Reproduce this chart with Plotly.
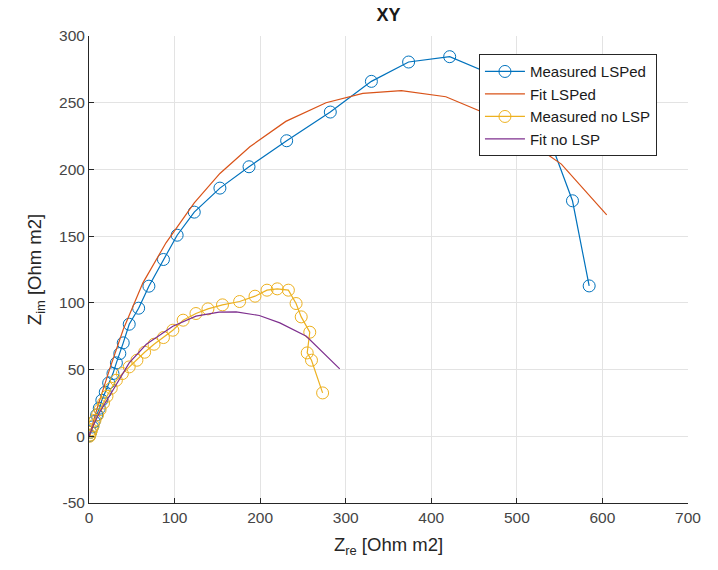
import plotly.graph_objects as go

# Measured impedance, LSPed sample
meas_lsp_re = [0.5, 2, 4, 6, 9, 12, 15, 19, 23, 28, 32, 36, 40, 47, 58, 70, 87, 103, 123,
               153, 187, 231, 282, 330, 373.5, 421.5, 475, 527, 565, 584.5]
meas_lsp_im = [0.5, 3, 7, 11, 16, 21, 27, 33, 40, 47, 55, 62, 70, 84, 96, 112.5, 132.5, 150.7, 168,
               186, 202, 221.5, 243, 266, 280.5, 284.5, 270, 242, 176.5, 112.7]

# Fitted model, LSPed sample
fit_lsp_re = [0, 10, 25, 40, 63, 90, 123, 153, 188, 230, 277, 320, 365, 417, 456, 495, 534.5, 552, 605]
fit_lsp_im = [0, 22, 52, 80, 115, 145, 175, 197, 217, 236, 250, 257, 259, 254.5, 244, 229, 211.7, 204, 166]

# Measured impedance, sample without LSP
meas_no_re = [0.5, 1, 2, 3, 5, 7, 10, 13, 17, 21, 26, 32, 39, 47, 56, 65, 76, 87, 98, 110,
              125, 139, 156, 176, 194, 208, 220, 233, 242, 248, 258, 255, 260, 273]
meas_no_im = [0, 1, 3, 5, 8, 12, 16, 20, 25, 30, 36, 42, 47, 52, 57, 63, 69, 74, 79.5, 87,
              92, 95.5, 98.5, 101, 105, 109.5, 110.5, 109.5, 99.5, 89.5, 78, 62.5, 57, 32.5]

# Fitted model, sample without LSP
fit_no_re = [0, 5, 12, 28, 47, 67, 98, 125, 152, 172, 199, 223, 254, 293]
fit_no_im = [0, 8, 17.5, 35, 55, 69, 82.5, 90, 93, 93.3, 90.5, 85, 75, 50.5]

x_ticks = [0, 100, 200, 300, 400, 500, 600, 700]
y_ticks = [-50, 0, 50, 100, 150, 200, 250, 300]
y_tick_labels = ["-50", "0", "50", "100", "150", "200", "250", "300"]

BLUE = "#0072BD"
ORANGE = "#D95319"
YELLOW = "#EDB120"
PURPLE = "#7E2F8E"
FONT = "Liberation Sans, Arial, sans-serif"

circle = dict(symbol="circle-open", size=12, line=dict(width=1))

fig = go.Figure()
fig.add_trace(go.Scatter(x=meas_lsp_re, y=meas_lsp_im, mode="lines+markers",
                         name="Measured LSPed", line=dict(color=BLUE, width=1.2),
                         marker=dict(color=BLUE, **circle)))
fig.add_trace(go.Scatter(x=fit_lsp_re, y=fit_lsp_im, mode="lines",
                         name="Fit LSPed", line=dict(color=ORANGE, width=1.2)))
fig.add_trace(go.Scatter(x=meas_no_re, y=meas_no_im, mode="lines+markers",
                         name="Measured no LSP", line=dict(color=YELLOW, width=1.2),
                         marker=dict(color=YELLOW, **circle)))
fig.add_trace(go.Scatter(x=fit_no_re, y=fit_no_im, mode="lines",
                         name="Fit no LSP", line=dict(color=PURPLE, width=1.2)))

axis_common = dict(
    showgrid=True, gridcolor="#e3e3e3", gridwidth=1,
    zeroline=False, showline=True, linecolor="#262626", linewidth=1,
    mirror=False, ticks="inside", ticklen=5, tickcolor="#262626",
    tickfont=dict(family=FONT, size=15.5, color="#454545"),
    title_font=dict(family=FONT, size=18.5, color="#262626"),
)

fig.update_layout(
    width=718, height=570,
    margin=dict(l=89, r=30, t=36, b=67),
    paper_bgcolor="white", plot_bgcolor="white",
    title=dict(text="<b>XY</b>", x=0.5, xref="paper", xanchor="center",
               y=1 - 15 / 570, yanchor="middle",
               font=dict(family=FONT, size=18, color="#1a1a1a")),
    xaxis=dict(range=[0, 700], tickvals=x_ticks,
               title=dict(text="Z<sub>re</sub> [Ohm m2]", standoff=13), **axis_common),
    yaxis=dict(range=[-50, 300], tickvals=y_ticks, ticktext=y_tick_labels,
               title=dict(text="Z<sub>im</sub> [Ohm m2]", standoff=12), **axis_common),
    legend=dict(x=0.651, y=0.961, xanchor="left", yanchor="top",
                bgcolor="white", bordercolor="#262626", borderwidth=1,
                font=dict(family=FONT, size=15, color="#1a1a1a"),
                itemwidth=40, tracegroupgap=0),
    showlegend=True,
)

fig.write_html("out.html")
